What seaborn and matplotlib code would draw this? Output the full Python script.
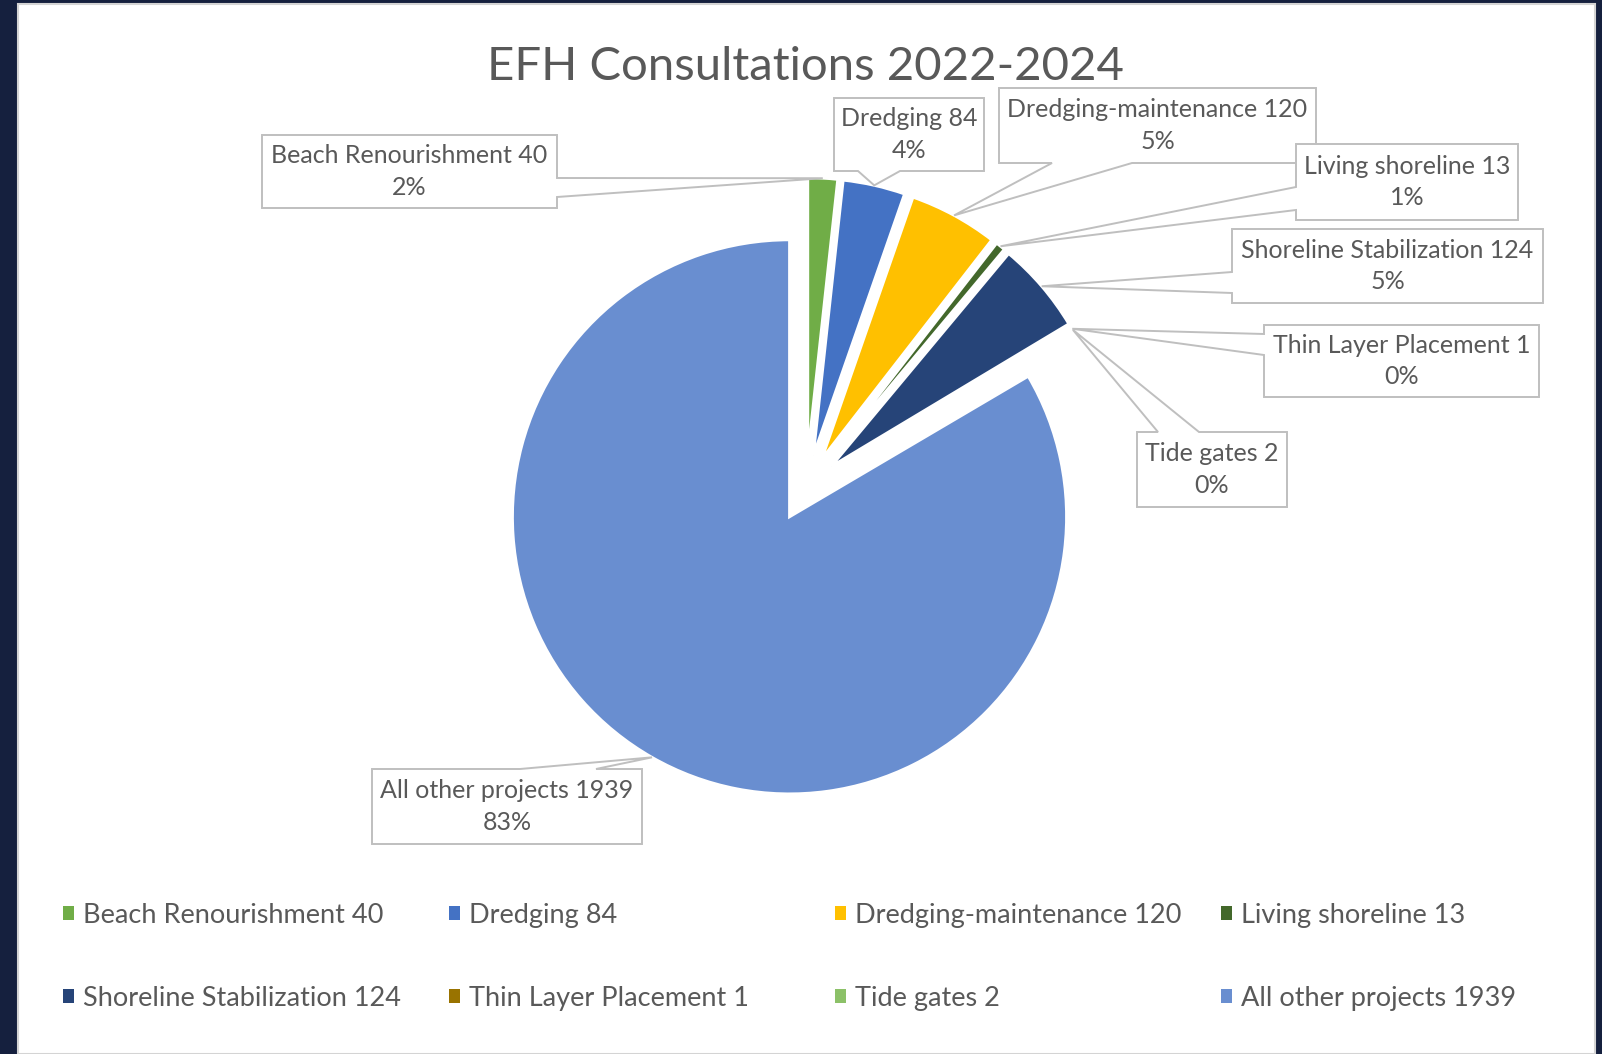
import numpy as np
import matplotlib
matplotlib.use("Agg")
import matplotlib.pyplot as plt
from matplotlib.patches import Polygon, Rectangle
import seaborn as sns

# ---------------- data ----------------
categories = ["Beach Renourishment", "Dredging", "Dredging-maintenance",
              "Living shoreline", "Shoreline Stabilization",
              "Thin Layer Placement", "Tide gates", "All other projects"]
counts = [40, 84, 120, 13, 124, 1, 2, 1939]
colors_hex = ["#70AD47", "#4472C4", "#FFC000", "#43682B",
              "#264478", "#997300", "#8CC168", "#698ED0"]
title_text = "EFH Consultations 2022-2024"

# ---------------- style ----------------
sns.set_theme(style="white")
plt.rcParams["font.family"] = ["Lato", "DejaVu Sans"]
palette = sns.color_palette(colors_hex)

W, H = 1602, 1054
fig = plt.figure(figsize=(W / 100, H / 100), dpi=100, facecolor="#15203e")

# white chart panel
panel = Rectangle((18 / W, 0), (1595 - 18) / W, (H - 4) / H, transform=fig.transFigure,
                  facecolor="white", edgecolor="#d4d4d4", lw=1.5, zorder=-5)
fig.patches.append(panel)

ax = fig.add_axes([0, 0, 1, 1], zorder=2)
ax.set_facecolor("none")

CX, CY, R = 806, 488, 277  # pixel layout of the pie


def Y(py):
    return H - py


explode = [0.12 * R for _ in categories]
wedges, _ = ax.pie(counts, colors=palette, startangle=90, counterclock=False,
                   explode=explode, center=(CX, Y(CY)), radius=R,
                   wedgeprops=dict(edgecolor="white", linewidth=2.0))
ax.set_xlim(0, W)
ax.set_ylim(0, H)
ax.set_aspect("auto")
ax.axis("off")

total = sum(counts)
label_texts = [f"{c} {v}\n{round(v / total * 100)}%" for c, v in zip(categories, counts)]

# callout layout (pixel coordinates, y from top): box x0,x1,y0,y1 ; side ; base a,b
callouts = [
    ((262, 557, 135, 208), "right", (178, 197)),
    ((834, 984, 98, 171), "bottom", (858, 900)),
    ((999, 1316, 88, 163), "bottom", (1052, 1132)),
    ((1296, 1518, 144, 220), "left", (187, 210)),
    ((1232, 1543, 229, 303), "left", (272, 293)),
    ((1264, 1539, 325, 397), "left", (334, 355)),
    ((1137, 1287, 432, 507), "top", (1158, 1199)),
    ((372, 642, 769, 844), "top", (520, 596)),
]

for w, txt, (box, side, base) in zip(wedges, label_texts, callouts):
    tm = np.deg2rad((w.theta1 + w.theta2) / 2)
    tip = (w.center[0] + w.r * np.cos(tm), w.center[1] + w.r * np.sin(tm))
    x0, x1, y0, y1 = box
    a, b = base
    verts = [(x0, Y(y0))]
    if side == "top":
        verts += [(a, Y(y0)), tip, (b, Y(y0))]
    verts += [(x1, Y(y0))]
    if side == "right":
        verts += [(x1, Y(a)), tip, (x1, Y(b))]
    verts += [(x1, Y(y1))]
    if side == "bottom":
        verts += [(b, Y(y1)), tip, (a, Y(y1))]
    verts += [(x0, Y(y1))]
    if side == "left":
        verts += [(x0, Y(b)), tip, (x0, Y(a))]
    poly = Polygon(verts, closed=True, facecolor="white", edgecolor="#bfbfbf",
                   lw=1.4, zorder=3, joinstyle="miter")
    ax.add_patch(poly)
    ax.text((x0 + x1) / 2, Y((y0 + y1) / 2), txt, ha="center", va="center",
            multialignment="center", fontsize=18, color="#595959",
            linespacing=1.45, zorder=4)

# title
fig.text(805 / W, 1 - 80 / H, title_text, ha="center", va="baseline",
         fontsize=34, color="#595959")

# legend: four columns, two rows
col_x = [63, 449, 835, 1221]
legend_labels = [f"{c} {v}" for c, v in zip(categories, counts)]
for j in range(4):
    idx = [j, j + 4]
    leg = fig.legend([wedges[i] for i in idx], [legend_labels[i] for i in idx],
                     loc="center left", bbox_to_anchor=(col_x[j] / W, 1 - 957 / H),
                     frameon=False, fontsize=19.5, labelcolor="#595959",
                     handlelength=0.4, handleheight=0.4, handletextpad=0.35,
                     labelspacing=2.14, borderpad=0, borderaxespad=0)
    for h in leg.legend_handles:
        h.set_edgecolor("none")

fig.savefig("out.png", dpi=100, facecolor=fig.get_facecolor())
